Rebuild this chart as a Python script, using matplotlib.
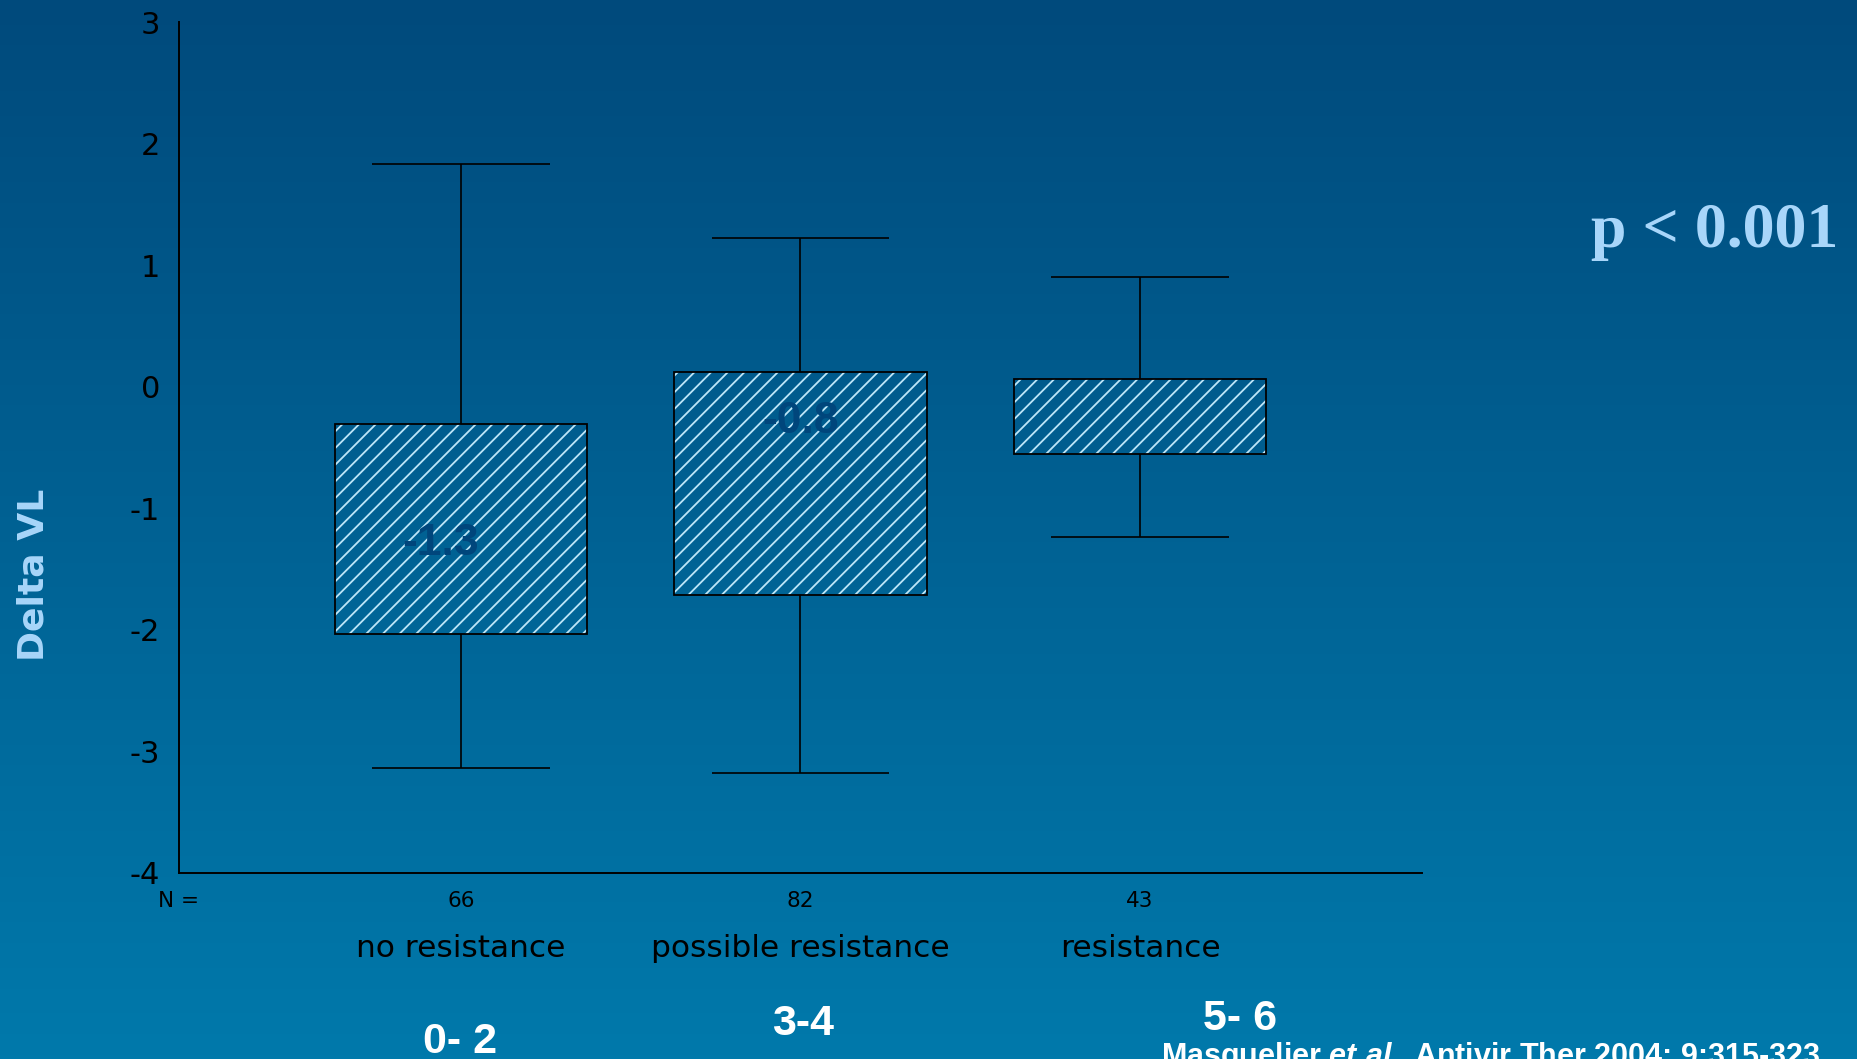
import matplotlib
matplotlib.use('Agg')
import matplotlib.pyplot as plt
import numpy as np

# group data (Delta VL by genotypic resistance score)
categories = ['no resistance', 'possible resistance', 'resistance']
n_counts = [66, 82, 43]
score_ranges = ['0- 2', '3-4', '5- 6']
q1 = [-2.03, -1.71, -0.555]
q3 = [-0.31, 0.12, 0.06]
whisker_lo = [-3.14, -3.18, -1.24]
whisker_hi = [1.83, 1.22, 0.905]
median_text = ['-1.3', '-0.8', None]

plt.rcParams['axes.unicode_minus'] = False
plt.rcParams['hatch.linewidth'] = 1.3
plt.rcParams['mathtext.fontset'] = 'custom'
plt.rcParams['mathtext.rm'] = 'Liberation Sans:bold'
plt.rcParams['mathtext.bf'] = 'Liberation Sans:bold'
plt.rcParams['mathtext.bfit'] = 'Liberation Sans:italic:bold'

W, H = 1858, 1059
fig = plt.figure(figsize=(W / 100, H / 100), dpi=100)

# vertical blue gradient background
bg = fig.add_axes([0, 0, 1, 1], zorder=-10)
grad = np.linspace(0, 1, 256)[:, None]
top = np.array([0, 74, 124]) / 255
bot = np.array([0, 121, 171]) / 255
img = top[None, None, :] * (1 - grad[..., None]) + bot[None, None, :] * grad[..., None]
bg.imshow(img, aspect='auto', extent=[0, 1, 0, 1])
bg.axis('off')

ax = fig.add_axes([179 / W, 1 - 873 / H, (1422 - 179) / W, (873 - 22) / H])
ax.patch.set_alpha(0)
pos = np.arange(1, len(categories) + 1)
box_w = 0.743
cap_w = 0.523

# hatched boxes, then outline on top
ax.bar(pos, np.array(q3) - np.array(q1), bottom=q1, width=box_w,
       color='none', edgecolor='#bde6f8', hatch='//', linewidth=0, zorder=2)
ax.bar(pos, np.array(q3) - np.array(q1), bottom=q1, width=box_w,
       fill=False, edgecolor='black', linewidth=1.3, zorder=3)

# whiskers and caps
ax.vlines(pos, q3, whisker_hi, color='black', linewidth=1.2, zorder=1)
ax.vlines(pos, whisker_lo, q1, color='black', linewidth=1.2, zorder=1)
ax.hlines(whisker_hi, pos - cap_w / 2, pos + cap_w / 2, color='black', linewidth=1.2)
ax.hlines(whisker_lo, pos - cap_w / 2, pos + cap_w / 2, color='black', linewidth=1.2)

# median values written inside boxes
narrow = ['Liberation Sans Narrow', 'Liberation Sans', 'DejaVu Sans']
label_spots = [(0.94, -1.29), (2.0, -0.29)]
for txt, (lx, ly) in zip(median_text, label_spots):
    if txt:
        ax.text(lx, ly, txt, ha='center', va='center', fontsize=32,
                fontweight='bold', family=narrow, color='#00467c', zorder=4)

ax.set_xlim(0.17, 3.83)
ax.set_ylim(-4, 3)
ax.set_yticks(range(-4, 4))
ax.set_xticks([])
ax.tick_params(axis='y', length=0, pad=13.5, labelsize=22, labelcolor='black')
for s in ['top', 'right']:
    ax.spines[s].set_visible(False)
for s in ['left', 'bottom']:
    ax.spines[s].set_linewidth(1.4)
    ax.spines[s].set_color('black')

xtr = ax.get_xaxis_transform()
fig.text(158 / W, 1 - 907 / H, 'N =', fontsize=15.5, va='baseline', ha='left')
for p, n in zip(pos, n_counts):
    ax.text(p, -0.040, str(n), transform=xtr, fontsize=15.5, ha='center', va='baseline')
for p, c in zip(pos, categories):
    ax.text(p, -0.0987, c, transform=xtr, fontsize=22.5, ha='center', va='baseline')

score_xy = [(460, 1053), (803, 1035), (1240, 1030)]
for (sx, sy), s in zip(score_xy, score_ranges):
    fig.text(sx / W, 1 - sy / H, s, fontsize=31, fontweight='bold',
             family='Liberation Sans', color='white', ha='center', va='baseline')

fig.text(34 / W, 1 - 575 / H, 'Delta VL', rotation=90, fontsize=26,
         fontweight='bold', color='#a8d6fa', ha='center', va='center')

fig.text(1715 / W, 1 - 247 / H, 'p < 0.001', fontsize=46, fontweight='bold',
         family='Liberation Serif', color='#a8d6fa', ha='center', va='baseline')

fig.text(1161 / W, 1 - 1065 / H,
         r'Masquelier $\mathbfit{et\ al.}$ Antivir Ther 2004; 9:315-323',
         fontsize=22, fontweight='bold', family='Liberation Sans',
         color='white', ha='left', va='baseline')

fig.savefig('out.png', dpi=100)
